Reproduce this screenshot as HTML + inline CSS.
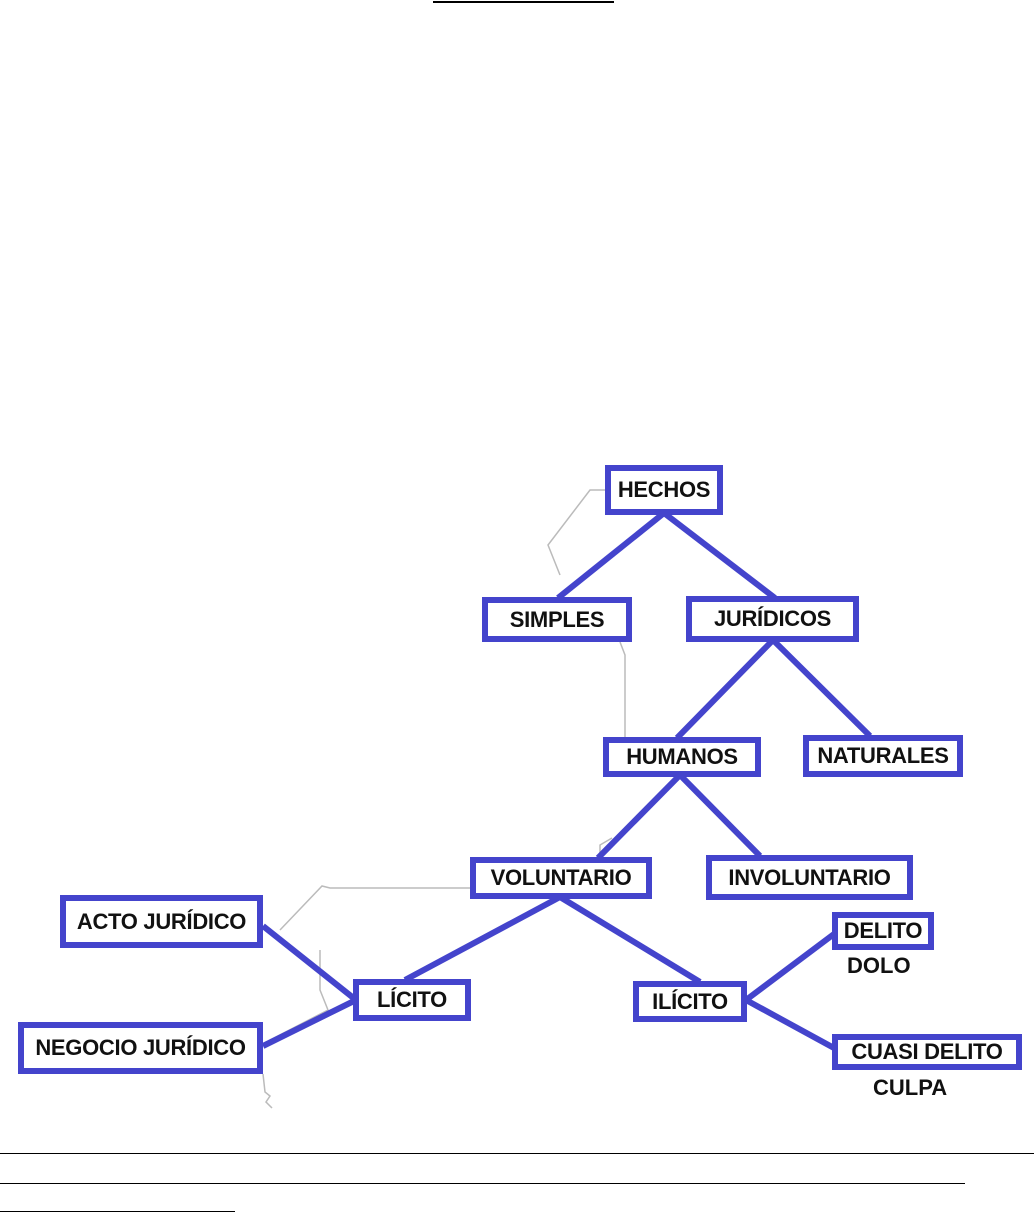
<!DOCTYPE html>
<html><head><meta charset="utf-8"><style>
body{margin:0;width:1034px;height:1213px;background:#fff;position:relative;overflow:hidden;font-family:"Liberation Sans",sans-serif}
.b{position:absolute;box-sizing:border-box;border:6px solid #4444cc;background:#fff;display:flex;align-items:center;justify-content:center;font-weight:bold;font-size:22px;color:#111;white-space:nowrap;letter-spacing:-0.3px}
.t{position:absolute;font-weight:bold;font-size:22px;color:#111}
.l{position:absolute;height:1px;background:#000;left:0}
</style></head><body>
<div class="l" style="top:1px;left:433px;width:181px;height:2px"></div>
<svg width="1034" height="1213" style="position:absolute;left:0;top:0">
<g fill="none" stroke="#bbb" stroke-width="1.5">
<polyline points="605,490 590,490 548,545 560,575"/>
<polyline points="620,642 625,655 625,737"/>
<polyline points="470,888 330,888 322,886 280,930"/>
<polyline points="600,857 600,845 612,838"/>
<polyline points="320,950 320,990 328,1010 270,1040"/>
<polyline points="263,1074 265,1092 270,1096 266,1102 272,1108"/>
</g>
<g stroke="#4444cc" stroke-width="6" fill="none">
<line x1="664" y1="513" x2="558" y2="598"/>
<line x1="664" y1="513" x2="775" y2="598"/>
<line x1="773" y1="640" x2="677" y2="738"/>
<line x1="773" y1="640" x2="870" y2="736"/>
<line x1="680" y1="775" x2="598" y2="858"/>
<line x1="680" y1="775" x2="760" y2="856"/>
<line x1="560" y1="897" x2="405" y2="980"/>
<line x1="560" y1="897" x2="700" y2="982"/>
<line x1="356" y1="1000" x2="263" y2="926"/>
<line x1="356" y1="1000" x2="263" y2="1046"/>
<line x1="746" y1="1000" x2="834" y2="934"/>
<line x1="746" y1="1000" x2="834" y2="1048"/>
</g></svg>
<div class="b" style="left:605px;top:465px;width:118px;height:50px">HECHOS</div>
<div class="b" style="left:482px;top:597px;width:150px;height:45px">SIMPLES</div>
<div class="b" style="left:686px;top:596px;width:173px;height:46px">JURÍDICOS</div>
<div class="b" style="left:603px;top:737px;width:158px;height:40px">HUMANOS</div>
<div class="b" style="left:803px;top:735px;width:160px;height:42px">NATURALES</div>
<div class="b" style="left:470px;top:857px;width:182px;height:42px">VOLUNTARIO</div>
<div class="b" style="left:706px;top:855px;width:207px;height:45px">INVOLUNTARIO</div>
<div class="b" style="left:60px;top:895px;width:203px;height:53px">ACTO JURÍDICO</div>
<div class="b" style="left:353px;top:979px;width:118px;height:42px">LÍCITO</div>
<div class="b" style="left:633px;top:981px;width:114px;height:41px">ILÍCITO</div>
<div class="b" style="left:18px;top:1022px;width:245px;height:52px">NEGOCIO JURÍDICO</div>
<div class="b" style="left:832px;top:912px;width:102px;height:38px">DELITO</div>
<div class="b" style="left:832px;top:1034px;width:190px;height:36px">CUASI DELITO</div>
<div class="t" style="left:847px;top:953px">DOLO</div>
<div class="t" style="left:873px;top:1075px">CULPA</div>
<div class="l" style="top:1153px;width:1034px"></div>
<div class="l" style="top:1183px;width:965px"></div>
<div class="l" style="top:1211px;width:235px"></div>
</body></html>
